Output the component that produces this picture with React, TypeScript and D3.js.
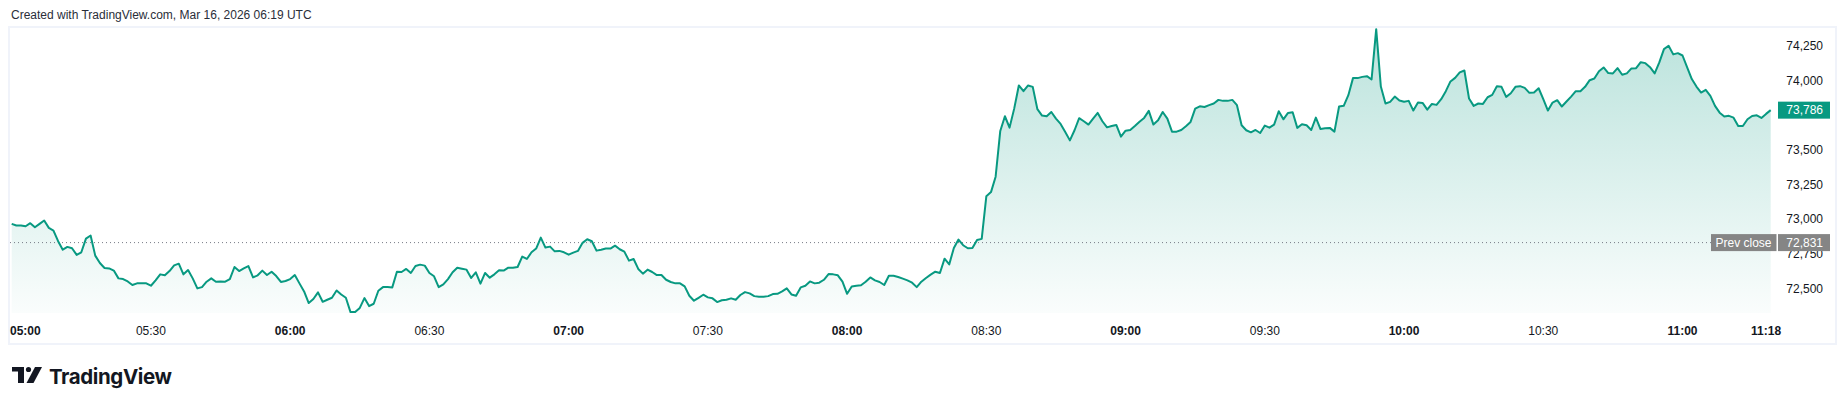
import React from "react";
import * as d3 from "d3";

// 1-minute bars starting 05:00 UTC (Mar 16, 2026)
const startTime = "05:00";
const prices: number[] = [
  72966, 72954, 72954, 72949, 72971, 72942, 72966, 72990, 72937, 72918,
  72841, 72780, 72800, 72790, 72742, 72761, 72860, 72882, 72737, 72684,
  72648, 72645, 72629, 72573, 72568, 72551, 72525, 72537, 72537, 72537,
  72520, 72559, 72602, 72595, 72626, 72667, 72679, 72602, 72633, 72573,
  72501, 72510, 72549, 72573, 72549, 72551, 72549, 72568, 72655, 72626,
  72645, 72662, 72580, 72595, 72629, 72597, 72621, 72590, 72547, 72554,
  72568, 72597, 72537, 72479, 72395, 72424, 72472, 72404, 72419, 72433,
  72486, 72457, 72433, 72330, 72330, 72360, 72431, 72373, 72390, 72484,
  72510, 72510, 72508, 72621, 72619, 72641, 72612, 72662, 72672, 72665,
  72612, 72588, 72510, 72530, 72568, 72617, 72650, 72643, 72636, 72576,
  72617, 72535, 72612, 72578, 72602, 72631, 72629, 72650, 72650, 72655,
  72730, 72713, 72761, 72788, 72867, 72795, 72802, 72768, 72771, 72761,
  72744, 72759, 72771, 72829, 72855, 72841, 72773, 72780, 72788, 72788,
  72809, 72783, 72766, 72701, 72713, 72641, 72607, 72636, 72619, 72597,
  72597, 72563, 72547, 72537, 72537, 72515, 72448, 72412, 72433, 72455,
  72436, 72429, 72402, 72415, 72419, 72429, 72419, 72453, 72474, 72465,
  72445, 72441, 72441, 72445, 72460, 72462, 72479, 72501, 72457, 72448,
  72508, 72520, 72551, 72537, 72542, 72563, 72604, 72602, 72595, 72549,
  72462, 72515, 72520, 72523, 72549, 72580, 72559, 72547, 72525, 72592,
  72592, 72583, 72571, 72559, 72542, 72510, 72549, 72576, 72600, 72621,
  72612, 72715, 72674, 72792, 72853, 72812, 72790, 72792, 72850, 72858,
  73166, 73195, 73306, 73636, 73742, 73660, 73797, 73964, 73923, 73964,
  73954, 73793, 73747, 73742, 73773, 73725, 73687, 73629, 73568, 73641,
  73728, 73706, 73682, 73725, 73766, 73706, 73662, 73672, 73679, 73595,
  73638, 73643, 73672, 73703, 73730, 73781, 73682, 73713, 73773, 73725,
  73631, 73631, 73643, 73670, 73701, 73797, 73814, 73809, 73822, 73834,
  73860, 73853, 73853, 73860, 73822, 73677, 73641, 73626, 73643, 73621,
  73675, 73660, 73682, 73778, 73720, 73766, 73771, 73658, 73684, 73677,
  73643, 73732, 73650, 73655, 73658, 73631, 73812, 73817, 73894, 74017,
  74017, 74026, 74031, 74007, 74370, 73956, 73834, 73846, 73884, 73855,
  73846, 73853, 73783, 73841, 73838, 73790, 73831, 73824, 73865, 73923,
  73993, 74019, 74058, 74072, 73870, 73817, 73834, 73831, 73879, 73896,
  73959, 73954, 73882, 73908, 73954, 73959, 73947, 73911, 73913, 73944,
  73865, 73783, 73841, 73858, 73812, 73848, 73884, 73923, 73923, 73954,
  74002, 74014, 74067, 74094, 74053, 74051, 74089, 74041, 74051, 74087,
  74089, 74132, 74125, 74096, 74051, 74130, 74226, 74250, 74188, 74197,
  74180, 74094, 74010, 73956, 73913, 73932, 73889, 73817, 73768, 73740,
  73745, 73732, 73672, 73672, 73720, 73744, 73749, 73730, 73759, 73786,
];
const prevClose = 72831;
const lastPrice = 73786;
// 73,750 is hidden under the last-price label in the reference
const priceTicks = [72500, 72750, 73000, 73250, 73500, 74000, 74250];
const timeTicks = ["05:00", "05:30", "06:00", "06:30", "07:00", "07:30", "08:00", "08:30", "09:00", "09:30", "10:00", "10:30", "11:00", "11:18"];
const titleText = "Created with TradingView.com, Mar 16, 2026 06:19 UTC";

const W = 1846;
const H = 405;
const GREEN = "#089981";
const GREY_LABEL = "#858585";
const FONT = "'Liberation Sans', Arial, sans-serif";

function toMin(t: string) {
  const [h, m] = t.split(":").map(Number);
  const [h0, m0] = startTime.split(":").map(Number);
  return h * 60 + m - (h0 * 60 + m0);
}

export default function App() {
  const x = d3.scaleLinear().domain([0, 379]).range([11.7, 1770.7]);
  const y = d3.scaleLinear().domain([72500, 74250]).range([288.5, 45.8]);
  const plotBottom = 313;

  const line = d3
    .line<number>()
    .x((_, i) => x(i))
    .y((d) => y(d));
  const area = d3
    .area<number>()
    .x((_, i) => x(i))
    .y0(plotBottom)
    .y1((d) => y(d));

  const fmt = d3.format(",");
  const pcY = y(prevClose);
  const lpY = y(lastPrice);

  return (
    <svg
      width={W}
      height={H}
      style={{ position: "absolute", left: 0, top: 0, background: "#fff" }}
    >
      <defs>
        <linearGradient id="fillGrad" gradientUnits="userSpaceOnUse" x1="0" y1="27" x2="0" y2={plotBottom}>
          <stop offset="0" stopColor={GREEN} stopOpacity={0.28} />
          <stop offset="1" stopColor={GREEN} stopOpacity={0.02} />
        </linearGradient>
      </defs>
      <rect x={0} y={0} width={W} height={H} fill="#fff" />
      <text x={11} y={19} fontFamily={FONT} fontSize={12} fill="#2a2e39">
        {titleText}
      </text>
      {/* frame */}
      <rect x={9} y={27} width={1827} height={317} fill="none" stroke="#f0f3fa" strokeWidth={2} />

      {/* area + line */}
      <path d={area(prices) || ""} fill="url(#fillGrad)" />
      <line x1={10} x2={1711} y1={pcY} y2={pcY} stroke="#787b86" strokeWidth={1} strokeDasharray="1 3" />
      <path d={line(prices) || ""} fill="none" stroke={GREEN} strokeWidth={2} strokeLinejoin="round" />

      {/* price axis */}
      {priceTicks.map((p) => (
        <text key={p} x={1823} y={y(p)} dy="0.35em" textAnchor="end" fontFamily={FONT} fontSize={12} fill="#131722">
          {fmt(p)}
        </text>
      ))}

      {/* prev close label */}
      <rect x={1711} y={pcY - 8.5} width={65.5} height={17} fill={GREY_LABEL} />
      <text x={1743.5} y={pcY} dy="0.35em" textAnchor="middle" fontFamily={FONT} fontSize={12} fill="#fff">
        Prev close
      </text>
      <rect x={1778} y={pcY - 8.5} width={52} height={17} fill={GREY_LABEL} />
      <text x={1823} y={pcY} dy="0.35em" textAnchor="end" fontFamily={FONT} fontSize={12} fill="#fff">
        {fmt(prevClose)}
      </text>

      {/* last price label */}
      <rect x={1778} y={lpY - 8.5} width={52} height={17} fill={GREEN} />
      <text x={1823} y={lpY} dy="0.35em" textAnchor="end" fontFamily={FONT} fontSize={12} fill="#fff">
        {fmt(lastPrice)}
      </text>

      {/* time axis */}
      {timeTicks.map((t, i) => {
        const m = toMin(t);
        const bold = t.endsWith(":00") || i === timeTicks.length - 1;
        return (
          <text
            key={t}
            x={i === 0 ? 10 : x(m)}
            y={331}
            dy="0.35em"
            textAnchor={i === 0 ? "start" : "middle"}
            fontFamily={FONT}
            fontSize={12}
            fontWeight={bold ? 700 : 400}
            fill="#131722"
          >
            {t}
          </text>
        );
      })}

      {/* TradingView logo */}
      <g fill="#131722">
        <path d="M12 367 H24 V383 H18 V371.5 H12 Z" />
        <circle cx={28.5} cy={369.5} r={2.6} />
        <path d="M35 367 H42 L33.5 383 H26.5 Z" />
      </g>
      <text x={49} y={383.5} fontFamily="Inter, 'Liberation Sans', sans-serif" fontSize={20.5} fontWeight={700} letterSpacing={-0.4} fill="#131722">
        TradingView
      </text>
    </svg>
  );
}
